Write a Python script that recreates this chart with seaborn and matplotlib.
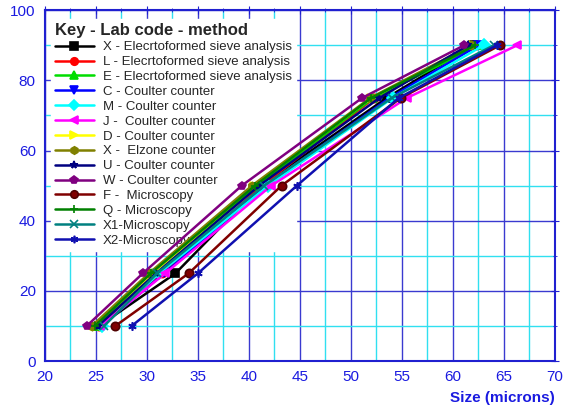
import matplotlib
matplotlib.use("Agg")
import matplotlib.pyplot as plt
import seaborn as sns
from matplotlib.ticker import MultipleLocator

sns.set_style("white")
plt.rcParams['font.family'] = ['Liberation Sans', 'DejaVu Sans']

# percent levels shared by every series
levels = [10, 25, 50, 75, 90]

# size (microns) at each level
labels = [
    "X - Elecrtoformed sieve analysis",
    "L - Elecrtoformed sieve analysis",
    "E - Elecrtoformed sieve analysis",
    "C - Coulter counter",
    "M - Coulter counter",
    "J -  Coulter counter",
    "D - Coulter counter",
    "X -  Elzone counter",
    "U - Coulter counter",
    "W - Coulter counter",
    "F -  Microscopy",
    "Q - Microscopy",
    "X1-Microscopy",
    "X2-Microscopy",
]
x_x = [25.3, 32.8, 41.2, 53.5, 62.0]
x_l = [25.3, 31.5, 41.3, 52.3, 62.3]
x_e = [25.0, 30.5, 40.8, 52.2, 62.6]
x_c = [25.5, 31.7, 41.6, 53.8, 62.5]
x_m = [25.6, 31.2, 41.9, 54.1, 63.0]
x_j = [25.4, 31.8, 42.2, 55.5, 66.3]
x_d = [24.8, 30.6, 40.5, 52.0, 62.0]
x_xe = [24.6, 30.2, 40.3, 51.9, 61.8]
x_u = [25.2, 30.9, 41.0, 52.8, 61.5]
x_w = [24.1, 29.6, 39.3, 51.1, 61.1]
x_f = [26.9, 34.1, 43.2, 54.9, 64.6]
x_q = [24.9, 30.4, 40.6, 52.0, 62.2]
x_x1 = [25.8, 31.0, 41.5, 54.0, 64.0]
x_x2 = [28.5, 35.0, 44.7, 54.7, 64.3]
sizes = [x_x, x_l, x_e, x_c, x_m, x_j, x_d, x_xe, x_u, x_w, x_f, x_q, x_x1, x_x2]

colors = ["#000000", "#ff0000", "#00dd00", "#0000ff", "#00ffff", "#ff00ff", "#ffff00",
          "#808000", "#000080", "#800080", "#800000", "#008000", "#008080", "#1010b0"]
markers = ["s", "o", "^", "v", "D", "<", ">", "h", "*", "p", "o", "+", "x", (6, 2, 0)]

fig, ax = plt.subplots(figsize=(5.68, 4.08), dpi=100)
fig.subplots_adjust(left=0.079, right=0.977, bottom=0.115, top=0.975)

for lab, xs, c, m in zip(labels, sizes, colors, markers):
    mec = "#500000" if lab.startswith("F") else c
    sns.lineplot(x=xs, y=levels, ax=ax, color=c, marker=m, markersize=6,
                 markeredgecolor=mec, markerfacecolor=c, markeredgewidth=1.2,
                 linewidth=1.8, sort=False, label=lab, zorder=3)

ax.set_xlim(20, 70)
ax.set_ylim(0, 100)
ax.xaxis.set_major_locator(MultipleLocator(5))
ax.xaxis.set_minor_locator(MultipleLocator(2.5))
ax.yaxis.set_major_locator(MultipleLocator(20))
ax.yaxis.set_minor_locator(MultipleLocator(10))
ax.grid(which="major", color="#3a3ad0", linewidth=1)
ax.grid(which="minor", color="#30e0f0", linewidth=1)
ax.set_axisbelow(True)

for s in ax.spines.values():
    s.set_color("#2020d0")
    s.set_linewidth(1.5)
ax.tick_params(which="both", colors="#2020d0", labelcolor="#1a1ae0", labelsize=11,
               direction="inout", top=True, right=True, length=6)
ax.tick_params(which="minor", length=3)

ax.set_xlabel("Size (microns)", color="#1a1ae0", fontweight="bold", fontsize=11)
ax.xaxis.set_label_coords(1.0, -0.085)
ax.xaxis.label.set_horizontalalignment("right")
ax.set_ylabel("")

leg = ax.legend(loc="upper left", bbox_to_anchor=(0.005, 0.985), fontsize=9.5,
                title="Key - Lab code - method", frameon=True, handlelength=2.9,
                handletextpad=0.7, labelspacing=0.2, borderaxespad=0.3, borderpad=0.3,
                markerscale=0.9)
leg.get_frame().set_edgecolor("white")
leg.get_frame().set_facecolor("white")
leg.get_frame().set_alpha(1)
leg._legend_box.align = "left"
leg.get_title().set_fontweight("bold")
leg.get_title().set_fontsize(12)
leg.set_zorder(1.5)

plt.savefig("out.png", dpi=100)
